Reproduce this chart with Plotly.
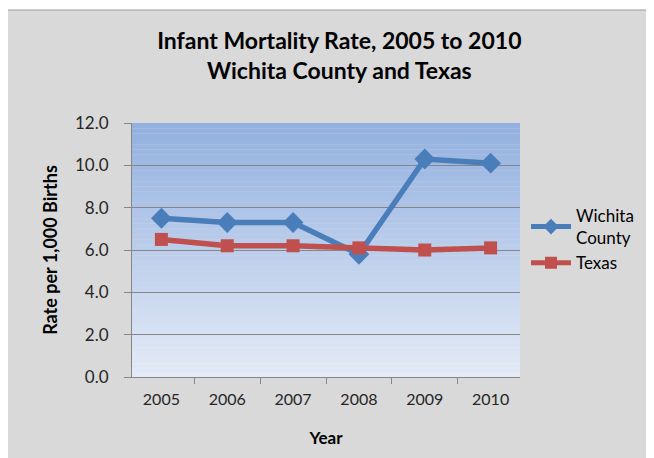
import plotly.graph_objects as go

years = ["2005", "2006", "2007", "2008", "2009", "2010"]
wichita = [7.5, 7.3, 7.3, 5.8, 10.3, 10.1]
texas = [6.5, 6.2, 6.2, 6.1, 6.0, 6.1]

FONT = "Lato, 'Open Sans', sans-serif"
# the page body keeps its default 8px margin, so the figure is drawn 8px in
OFF = 8
W, H = 654 - OFF, 458 - OFF
ML, MR, MT, MB = 132 - OFF, 134, 123 - OFF, 81
PW, PH = W - ML - MR, H - MT - MB


def _px_x(px):
    # page pixel -> paper x
    return (px - OFF - ML) / PW


def _px_y(py):
    # page pixel -> paper y
    return (H - MB - (py - OFF)) / PH


def _gradient_bands(top=(146, 176, 224), bottom=(228, 235, 247), n=48):
    shapes = []
    for i in range(n):
        t = i / (n - 1)
        c = tuple(round(top[k] + (bottom[k] - top[k]) * t) for k in range(3))
        shapes.append(dict(
            type="rect", xref="x domain", yref="y domain",
            x0=0, x1=1, y0=1 - (i + 1) / n, y1=1 - i / n,
            fillcolor="rgb(%d,%d,%d)" % c, line=dict(width=0), layer="below",
        ))
    return shapes


fig = go.Figure()
fig.add_trace(go.Scatter(
    x=years, y=wichita, name="Wichita<br>County", mode="lines+markers",
    line=dict(color="#4a7ebb", width=5.5),
    marker=dict(symbol="diamond", size=16, color="#4a7ebb"),
))
fig.add_trace(go.Scatter(
    x=years, y=texas, name="Texas", mode="lines+markers",
    line=dict(color="#c0504d", width=5.5),
    marker=dict(symbol="square", size=13, color="#c0504d"),
))

shapes = [dict(
    type="rect", xref="paper", yref="paper",
    x0=_px_x(7), x1=_px_x(660), y0=_px_y(465), y1=_px_y(10),
    fillcolor="#d9d9d9", line=dict(color="#9a9a9a", width=1), layer="below",
)]
shapes += _gradient_bands()

fig.update_layout(
    width=W, height=H,
    margin=dict(l=ML, r=MR, t=MT, b=MB, autoexpand=False),
    paper_bgcolor="white", plot_bgcolor="rgba(0,0,0,0)",
    font=dict(family=FONT, size=16, color="black"),
    shapes=shapes,
    title=dict(
        text="<b>Infant Mortality Rate, 2005 to 2010<br>Wichita County and Texas</b>",
        x=_px_x(331), xanchor="center", y=1 - 41 / H, yanchor="top",
        font=dict(family=FONT, size=23, color="black"), automargin=False,
    ),
    xaxis=dict(
        type="category", showgrid=False, showline=True, linecolor="#868686",
        ticks="outside", tickson="boundaries", ticklen=6, tickcolor="#868686",
        tickfont=dict(size=16, color="#262626"), ticklabelstandoff=8,
        automargin=False,
        title=dict(text="<b>Year</b>", font=dict(size=17), standoff=24),
    ),
    yaxis=dict(
        range=[0, 12], dtick=2, tickformat=".1f", showgrid=True,
        gridcolor="#868686", gridwidth=1, showline=True, linecolor="#868686",
        ticks="outside", ticklen=7, tickcolor="#868686",
        tickfont=dict(size=17, color="#262626"), ticklabelstandoff=12,
        zeroline=False, automargin=False,
        title=dict(text="<b>Rate per 1,000 Births</b>", font=dict(size=18), standoff=12),
    ),
    legend=dict(
        x=_px_x(526), xanchor="left", y=_px_y(198), yanchor="top",
        bgcolor="rgba(0,0,0,0)", font=dict(size=17), tracegroupgap=8,
        itemwidth=40, itemsizing="constant",
    ),
)

fig.write_html("out.html")
